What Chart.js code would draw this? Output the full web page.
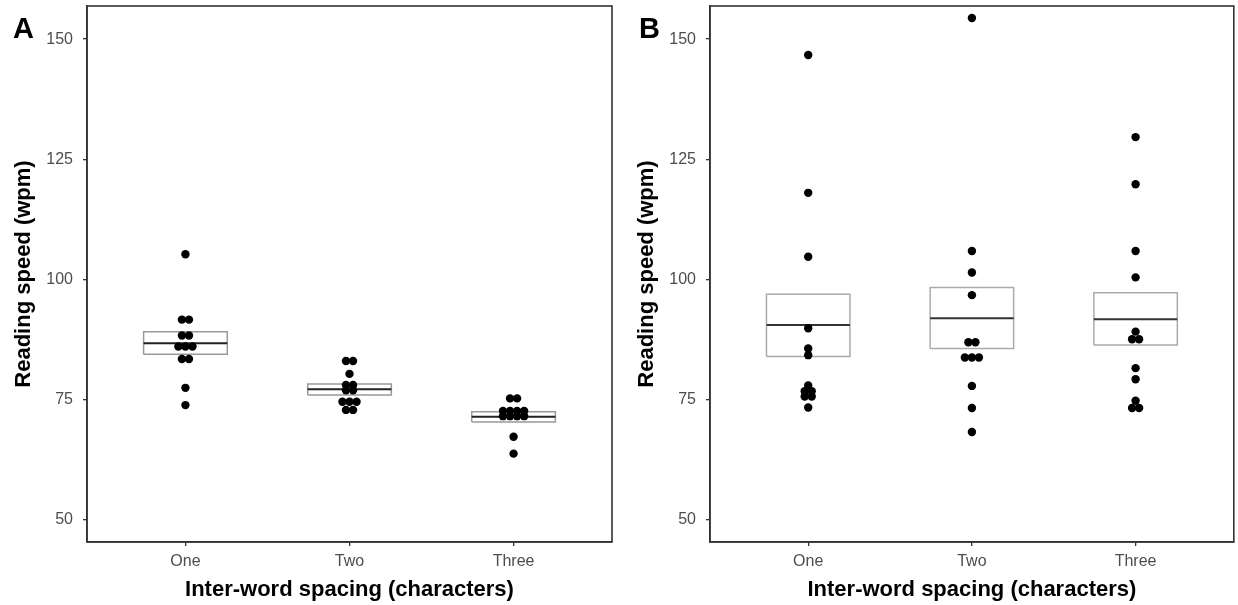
<!DOCTYPE html>
<html>
<head>
<meta charset="utf-8">
<script src="https://cdn.jsdelivr.net/npm/chart.js@4/dist/chart.umd.min.js"></script>
<style>
  body { margin: 0; background: #fff; }
  .panel { position: absolute; top: 0; width: 619px; height: 605px; }
  .tag { position: absolute; font: bold 29px "Liberation Sans", Arial, sans-serif; line-height: 29px; color: #000; }
</style>
</head>
<body>
<div class="panel" style="left:0"><canvas id="chartA"></canvas></div>
<div class="panel" style="left:619px"><canvas id="chartB"></canvas></div>
<div class="tag" style="left:13px;top:14px">A</div>
<div class="tag" style="left:639px;top:14px">B</div>
<script>
var categories = ["One", "Two", "Three"];
var yTicks = [50, 75, 100, 125, 150];
var xTitle = "Inter-word spacing (characters)";
var yTitle = "Reading speed (wpm)";

// panel A: reading speed per participant
var oneA = [105.2, 91.6, 91.6, 88.3, 88.3, 86.0, 86.0, 86.0, 83.4, 83.4, 77.4, 73.8];
var twoA = [83.0, 83.0, 80.3, 78.0, 78.0, 76.9, 76.9, 74.5, 74.5, 74.5, 72.8, 72.8];
var threeA = [75.2, 75.2, 72.6, 72.6, 72.6, 72.6, 71.5, 71.5, 71.5, 71.5, 67.2, 63.7];
var boxLowA = [84.4, 75.9, 70.3];
var boxMidA = [86.7, 77.1, 71.4];
var boxHighA = [89.1, 78.2, 72.4];

// panel B
var oneB = [146.7, 118.0, 104.7, 89.8, 85.6, 84.2, 77.9, 76.7, 76.7, 75.6, 75.6, 73.3];
var twoB = [154.4, 105.9, 101.4, 96.7, 86.9, 86.9, 83.7, 83.7, 83.7, 77.8, 73.2, 68.2];
var threeB = [129.6, 119.8, 105.9, 100.4, 89.1, 87.5, 87.5, 81.5, 79.2, 74.7, 73.2, 73.2];
var boxLowB = [83.9, 85.6, 86.3];
var boxMidB = [90.5, 91.9, 91.7];
var boxHighB = [96.9, 98.3, 97.2];

var FONT = "'Liberation Sans', Arial, sans-serif";

// dotplot style: equal values side by side
function swarm(values, pos) {
    var s = values.slice().sort(function (a, b) { return a - b; });
    var pts = [], i = 0;
    while (i < s.length) {
        var j = i;
        while (j + 1 < s.length && s[j + 1] - s[i] < 0.3) j++;
        var n = j - i + 1;
        for (var k = 0; k < n; k++) {
            pts.push({ x: pos + (k - (n - 1) / 2) * 0.043, y: s[i + k] });
        }
        i = j + 1;
    }
    return pts;
}

function boxPts(lo, hi, pos) {
    var hw = 0.255;
    return [{ x: pos - hw, y: lo }, { x: pos + hw, y: lo }, { x: pos + hw, y: hi }, { x: pos - hw, y: hi }, { x: pos - hw, y: lo }];
}

var framePlugin = {
    id: "frame",
    afterDraw: function (chart) {
        var a = chart.chartArea, ctx = chart.ctx;
        ctx.save();
        ctx.strokeStyle = "#333";
        ctx.lineWidth = 1.6;
        ctx.strokeRect(a.left, a.top, a.right - a.left, a.bottom - a.top);
        ctx.restore();
    }
};

function makePanel(id, groups, lo, mid, hi, yWidth, padRight, yTitlePad, boxColor, medColor) {
    var datasets = [];
    groups.forEach(function (vals, g) {
        datasets.push({
            data: swarm(vals, g + 1),
            pointRadius: 4.2, pointBorderWidth: 0,
            pointBackgroundColor: "#000", order: 0
        });
        datasets.push({
            data: [{ x: g + 1 - 0.255, y: mid[g] }, { x: g + 1 + 0.255, y: mid[g] }],
            showLine: true, borderColor: medColor, borderWidth: 2,
            pointRadius: 0, order: 1
        });
        datasets.push({
            data: boxPts(lo[g], hi[g], g + 1),
            showLine: true, borderColor: boxColor, borderWidth: 1.5,
            backgroundColor: "#fff", fill: false, pointRadius: 0, order: 2
        });
    });
    new Chart(document.getElementById(id), {
        type: "scatter",
        data: { datasets: datasets },
        options: {
            responsive: true, maintainAspectRatio: false, animation: false, events: [],
            layout: { padding: { left: 0, right: padRight, top: 6, bottom: 0 } },
            plugins: { legend: { display: false }, tooltip: { enabled: false } },
            scales: {
                x: {
                    type: "linear", min: 0.4, max: 3.6,
                    afterBuildTicks: function (s) { s.ticks = categories.map(function (c, i) { return { value: i + 1 }; }); },
                    afterFit: function (s) { s.height = 63; s.paddingLeft = 0; s.paddingRight = 0; },
                    ticks: {
                        callback: function (v) { return categories[v - 1]; },
                        color: "#4d4d4d", font: { family: FONT, size: 16 }, padding: 6, maxRotation: 0
                    },
                    grid: { drawOnChartArea: false, drawTicks: true, tickLength: 4, color: "#333", lineWidth: 1.3 },
                    border: { color: "#333", width: 1.6 },
                    title: { display: true, text: xTitle, color: "#000", font: { family: FONT, size: 22, weight: "bold" }, padding: { top: 0, bottom: 2 } }
                },
                y: {
                    min: 45.3, max: 156.9,
                    afterBuildTicks: function (s) { s.ticks = yTicks.map(function (v) { return { value: v }; }); },
                    afterFit: function (s) { s.width = yWidth; s.paddingTop = 0; s.paddingBottom = 0; },
                    ticks: { color: "#4d4d4d", font: { family: FONT, size: 16 }, padding: 10 },
                    grid: { drawOnChartArea: false, drawTicks: true, tickLength: 4, color: "#333", lineWidth: 1.3 },
                    border: { color: "#333", width: 1.6 },
                    title: { display: true, text: yTitle, color: "#000", font: { family: FONT, size: 22, weight: "bold" }, padding: { top: yTitlePad, bottom: 0 } }
                }
            }
        },
        plugins: [framePlugin]
    });
}

makePanel("chartA", [oneA, twoA, threeA], boxLowA, boxMidA, boxHighA, 87, 7, 11, "#999", "#222");
makePanel("chartB", [oneB, twoB, threeB], boxLowB, boxMidB, boxHighB, 91, 4, 15, "#aaa", "#333");
</script>
</body>
</html>
